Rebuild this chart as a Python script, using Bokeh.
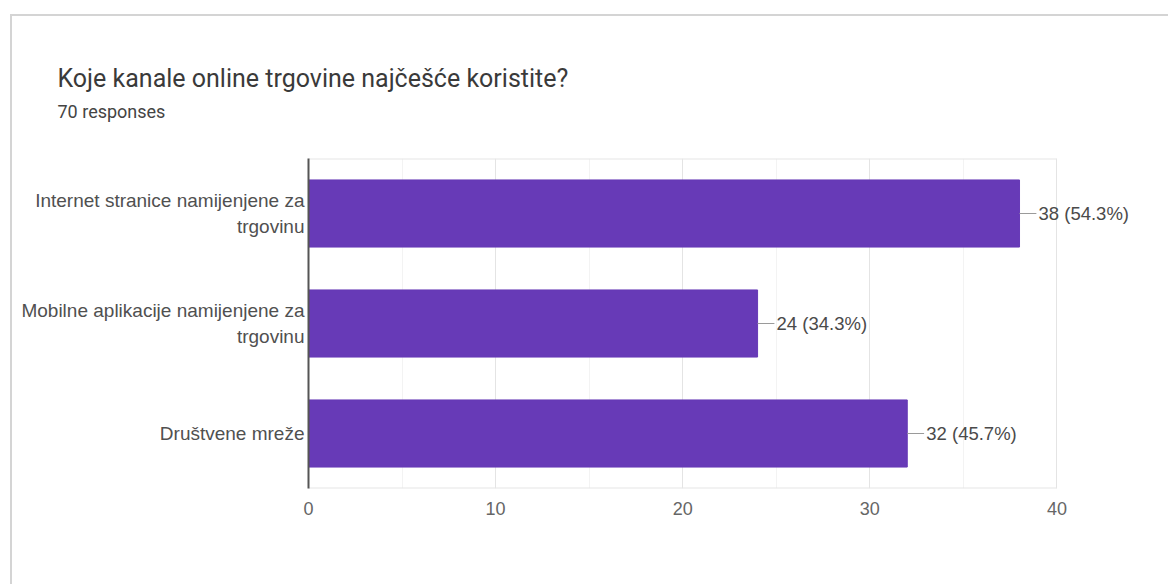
from bokeh.plotting import figure
from bokeh.models import Range1d, FixedTicker, Title, ColumnDataSource
from bokeh.core.properties import value
from bokeh.embed import file_html
from bokeh.resources import INLINE

# ---- data ----
title_text = "Koje kanale online trgovine najčešće koristite?"
subtitle_text = "70 responses"
total_responses = 70
categories = ["Internet stranice namijenjene za trgovinu",
              "Mobilne aplikacije namijenjene za trgovinu",
              "Društvene mreže"]
category_lines = [["Internet stranice namijenjene za", "trgovinu"],
                  ["Mobilne aplikacije namijenjene za", "trgovinu"],
                  ["Društvene mreže"]]
counts = [38, 24, 32]
x_ticks = [0, 10, 20, 30, 40]
x_minor_ticks = [5, 15, 25, 35]

value_labels = [f"{c} ({c / total_responses * 100:.1f}%)" for c in counts]
n = len(categories)
y_pos = [n - i - 0.5 for i in range(n)]          # category slots, first on top

PURPLE = "#673ab7"
FONT = "Liberation Sans"

p = figure(width=1158, height=570,
           x_range=Range1d(0, 45), y_range=Range1d(0, n),
           output_backend="svg", toolbar_location=None,
           min_border_left=296, min_border_right=20,
           min_border_top=142, min_border_bottom=98,
           margin=(14, 0, 0, 10))
p.styles = {"border-left": "2px solid #d4d4d4", "border-top": "2px solid #d4d4d4"}
p.outline_line_color = None
p.background_fill_color = "white"
p.border_fill_color = "white"

# frame lines (top / bottom of the chart area)
p.segment(x0=[0, 0], x1=[x_ticks[-1], x_ticks[-1]], y0=[0, n], y1=[0, n],
          line_color="#e6e6e6", line_width=2)

# bars
src = ColumnDataSource(dict(y=y_pos, count=counts, label=value_labels,
                            lead_end=[c + 0.9 for c in counts]))
p.hbar(y="y", right="count", left=0, height=0.61, source=src,
       fill_color=PURPLE, line_color=PURPLE)

# leader lines and value labels
p.segment(x0="count", x1="lead_end", y0="y", y1="y", source=src,
          line_color="#9a9a9a", line_width=1.2)
p.text(x="count", y="y", text="label", source=src, x_offset=19,
       text_baseline="middle", text_align="left",
       text_font=value(FONT), text_font_size="18.5px", text_color="#4a4a4a")

# x axis
p.xaxis.ticker = FixedTicker(ticks=x_ticks, minor_ticks=x_minor_ticks)
p.xaxis.axis_line_color = None
p.xaxis.major_tick_line_color = None
p.xaxis.minor_tick_line_color = None
p.xaxis.major_label_text_font = FONT
p.xaxis.major_label_text_font_size = "18px"
p.xaxis.major_label_text_color = "#666666"
p.xaxis.major_label_standoff = 7
p.xgrid.grid_line_color = "#e4e4e4"
p.xgrid.minor_grid_line_color = "#f3f3f3"
p.ygrid.grid_line_color = None

# y axis: one tick per label line so long labels wrap
line_gap = 0.242
y_ticks, y_over = [], {}
for yc, lines in zip(y_pos, category_lines):
    k = len(lines)
    for j, txt in enumerate(lines):
        t = round(yc + ((k - 1) / 2 - j) * line_gap, 4)
        y_ticks.append(t)
        y_over[t] = txt
        y_over[str(t)] = txt
p.yaxis.ticker = FixedTicker(ticks=sorted(y_ticks), minor_ticks=[])
p.yaxis.major_label_overrides = y_over
p.yaxis.axis_line_color = "#555555"
p.yaxis.axis_line_width = 2
p.yaxis.major_tick_line_color = None
p.yaxis.minor_tick_line_color = None
p.yaxis.major_tick_out = 0
p.yaxis.major_tick_in = 0
p.yaxis.major_label_standoff = 4
p.yaxis.major_label_text_font = FONT
p.yaxis.major_label_text_font_size = "19px"
p.yaxis.major_label_text_color = "#505050"

# title / subtitle (stacked outward from the chart area)
p.title.text = ""
p.title.visible = False
p.add_layout(Title(text=" ", text_font_size="1px", standoff=31), "above")
p.add_layout(Title(text=subtitle_text, align="left", offset=57 - 308, standoff=6,
                   text_font="Roboto", text_font_size="18px",
                   text_font_style="normal", text_color="#444444"), "above")
p.add_layout(Title(text=title_text, align="left", offset=57 - 308, standoff=6,
                   text_font="Roboto", text_font_size="25px",
                   text_font_style="normal", text_color="#3a3a3a"), "above")

open("out.html", "w").write(file_html(p, INLINE))
